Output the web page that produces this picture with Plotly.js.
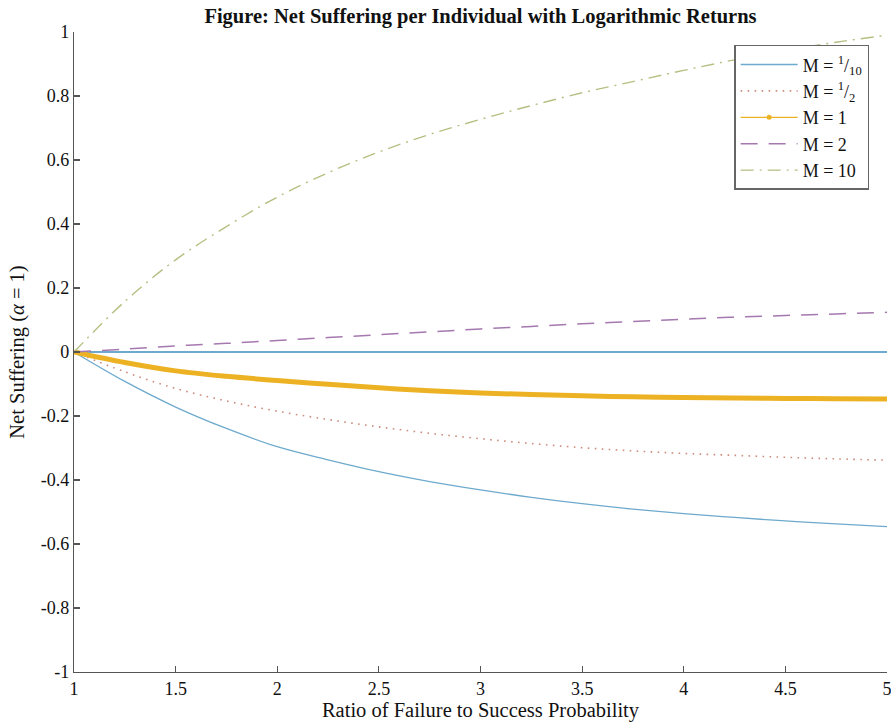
<!DOCTYPE html>
<html>
<head>
<meta charset="utf-8">
<script src="https://cdn.plot.ly/plotly-3.0.1.min.js"></script>
<style>html,body{margin:0;padding:0;background:#fff;}#chart{width:891px;height:727px;}</style>
</head>
<body>
<div id="chart"></div>
<script>
// Ratio of failure to success probability
const ratio = [1, 1.25, 1.5, 1.75, 2, 2.25, 2.5, 2.75, 3, 3.25, 3.5, 3.75, 4, 4.25, 4.5, 4.75, 5];
// Net suffering per M
const mTenth = [0, -0.092, -0.172, -0.239, -0.296, -0.337, -0.374, -0.405, -0.431, -0.454, -0.474, -0.491, -0.505, -0.517, -0.528, -0.537, -0.546];
const mHalf  = [0, -0.062, -0.114, -0.153, -0.185, -0.211, -0.234, -0.254, -0.271, -0.286, -0.299, -0.309, -0.317, -0.323, -0.329, -0.334, -0.338];
const mOne   = [0, -0.033, -0.059, -0.076, -0.089, -0.101, -0.112, -0.121, -0.128, -0.133, -0.137, -0.140, -0.142, -0.144, -0.145, -0.146, -0.147];
const mTwo   = [0, 0.009, 0.019, 0.027, 0.036, 0.045, 0.054, 0.063, 0.072, 0.080, 0.088, 0.095, 0.102, 0.109, 0.114, 0.119, 0.124];
const mTen   = [0, 0.158, 0.288, 0.392, 0.484, 0.560, 0.625, 0.680, 0.727, 0.770, 0.810, 0.845, 0.880, 0.913, 0.942, 0.968, 0.990];
// zero reference line
const zeroX = [1, 5];
const zeroY = [0, 0];

const seriesNames = ['M = <sup>1</sup>/<sub>10</sub>', 'M = <sup>1</sup>/<sub>2</sub>', 'M = 1', 'M = 2', 'M = 10'];
const xTickVals = [1, 1.5, 2, 2.5, 3, 3.5, 4, 4.5, 5];
const xTickText = ['1', '1.5', '2', '2.5', '3', '3.5', '4', '4.5', '5'];
const yTickVals = [-1, -0.8, -0.6, -0.4, -0.2, 0, 0.2, 0.4, 0.6, 0.8, 1];
const yTickText = ['-1', '-0.8', '-0.6', '-0.4', '-0.2', '0', '0.2', '0.4', '0.6', '0.8', '1'];

const serif = 'Liberation Serif, Times New Roman, serif';
const cBlue = 'rgb(110,170,205)';
const cRed = 'rgb(205,140,125)';
const cGold = 'rgb(236,178,36)';
const cPurple = 'rgb(165,120,175)';
const cGreen = 'rgb(180,192,130)';

const traces = [
  {x: zeroX, y: zeroY, mode: 'lines', line: {color: cBlue, width: 2}, showlegend: false, hoverinfo: 'skip'},
  {x: ratio, y: mTenth, name: seriesNames[0], mode: 'lines', line: {color: cBlue, width: 1.3, shape: 'spline'}},
  {x: ratio, y: mHalf, name: seriesNames[1], mode: 'lines', line: {color: cRed, width: 1.6, dash: '1.6px,5.4px', shape: 'spline'}},
  {x: ratio, y: mOne, name: seriesNames[2], mode: 'lines', line: {color: cGold, width: 5, shape: 'spline'}, showlegend: false},
  {x: [null], y: [null], name: seriesNames[2], mode: 'lines+markers', line: {color: cGold, width: 1.3}, marker: {color: cGold, size: 5}},
  {x: ratio, y: mTwo, name: seriesNames[3], mode: 'lines', line: {color: cPurple, width: 1.5, dash: '17px,11px', shape: 'spline'}},
  {x: ratio, y: mTen, name: seriesNames[4], mode: 'lines', line: {color: cGreen, width: 1.4, dash: '13px,6px,2px,6px', shape: 'spline'}}
];

const axisCommon = {
  showline: true, linecolor: '#555', linewidth: 1.2,
  ticks: 'inside', ticklen: 6, tickcolor: '#555', tickwidth: 1.2,
  showgrid: false, zeroline: false, mirror: false,
  tickfont: {family: serif, size: 18, color: '#111'},
  tickmode: 'array', ticklabeloverflow: 'allow'
};

const layout = {
  width: 891, height: 727,
  margin: {l: 74, r: 4, t: 32, b: 55},
  paper_bgcolor: '#fff', plot_bgcolor: '#fff',
  title: {text: '<b>Figure: Net Suffering per Individual with Logarithmic Returns</b>',
          font: {family: serif, size: 20.5, color: '#111'}, x: 0.5, xref: 'paper', y: 0.978, yanchor: 'middle'},
  xaxis: Object.assign({}, axisCommon, {
    range: [1, 5], tickvals: xTickVals, ticktext: xTickText,
    title: {text: 'Ratio of Failure to Success Probability', font: {family: serif, size: 20.5, color: '#111'}, standoff: 4}
  }),
  yaxis: Object.assign({}, axisCommon, {
    range: [-1, 1], tickvals: yTickVals, ticktext: yTickText,
    title: {text: 'Net Suffering (<i>α</i> = 1)', font: {family: serif, size: 20.5, color: '#111'}, standoff: 10}
  }),
  legend: {
    x: 0.812, y: 0.98, xanchor: 'left', yanchor: 'top',
    bgcolor: '#fff', bordercolor: '#666', borderwidth: 1.5,
    font: {family: serif, size: 18, color: '#111'},
    itemwidth: 57, tracegroupgap: 0
  },
  showlegend: true
};

Plotly.newPlot('chart', traces, layout, {displayModeBar: false, staticPlot: true});
</script>
</body>
</html>
